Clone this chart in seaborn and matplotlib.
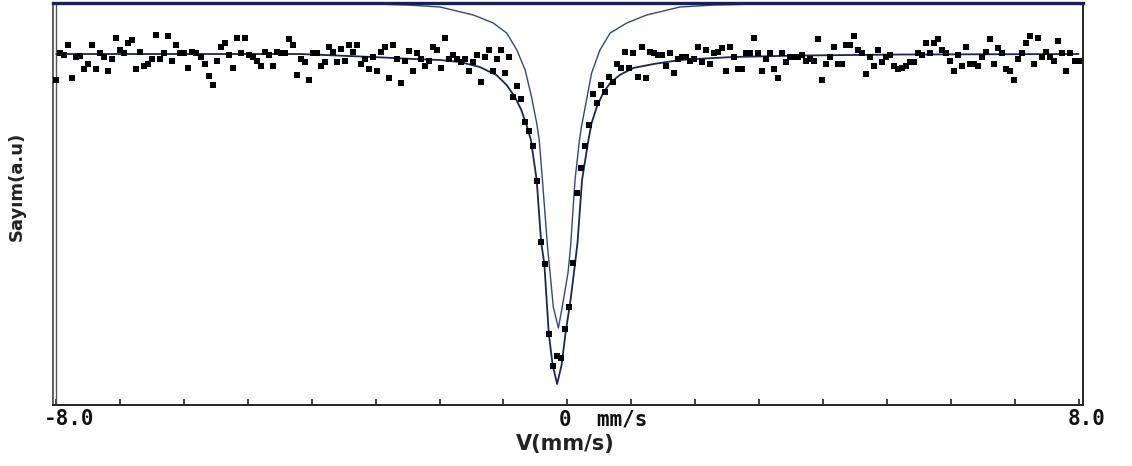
import numpy as np
import pandas as pd
import matplotlib
matplotlib.use("Agg")
import matplotlib.pyplot as plt
import seaborn as sns
from matplotlib.transforms import blended_transform_factory

# ---------------- data ----------------
V_MIN, V_MAX = -8.0, 8.0

# measured counts per channel (relative units), 256 channels from -8 to +8 mm/s
counts = [
    0.975,
    1.002, 1.000, 1.010, 0.977, 0.998, 0.999, 0.986, 0.991, 1.010, 0.986,
    1.002, 0.998, 0.984, 0.996, 1.017, 1.005, 1.002, 1.012, 1.015, 0.986,
    1.003, 0.989, 0.991, 0.996, 1.020, 0.996, 1.002, 1.019, 0.994, 1.010,
    1.002, 1.002, 0.987, 1.003, 1.002, 0.998, 0.991, 0.979, 0.970, 0.994,
    1.008, 1.012, 1.000, 0.987, 1.017, 1.002, 1.017, 1.000, 0.998, 0.994,
    0.989, 1.003, 1.000, 0.989, 1.003, 1.002, 1.002, 1.016, 1.010, 0.980,
    0.996, 0.993, 0.975, 1.002, 1.002, 0.989, 0.993, 1.008, 1.003, 0.993,
    1.006, 0.994, 1.010, 1.003, 1.010, 0.991, 0.996, 0.986, 0.998, 0.984,
    1.003, 1.008, 0.977, 1.010, 0.996, 0.972, 0.994, 1.004, 0.984, 1.002,
    0.996, 0.989, 0.994, 1.008, 1.005, 0.987, 1.017, 0.996, 1.000, 0.996,
    0.993, 0.996, 0.984, 0.993, 1.000, 0.973, 0.998, 1.005, 0.984, 0.996,
    1.005, 0.982, 0.998,
    0.958, 0.969, 0.956, 0.933, 0.924, 0.909, 0.874, 0.813, 0.791, 0.721,
    0.689, 0.699, 0.697, 0.726, 0.748, 0.792, 0.862, 0.887, 0.909, 0.930,
    0.961, 0.952, 0.970, 0.963,
    0.978, 0.973, 0.991, 0.987, 1.003, 0.987, 1.002, 0.978, 1.008, 0.977,
    1.003, 1.002, 1.000,
    1.000, 0.989, 1.002, 0.982, 0.996, 0.998, 0.998, 0.994, 0.996, 1.008,
    0.993, 1.005, 0.991, 1.002, 1.003, 1.007, 0.984, 1.008, 0.998, 0.986,
    0.986, 1.002, 1.002, 1.017, 1.002, 0.984, 0.996, 1.002, 0.986, 0.977,
    1.002, 0.993, 0.998, 0.998, 0.998, 1.000, 0.994, 0.996, 0.994, 1.016,
    0.975, 0.991, 0.998, 1.008, 0.991, 0.991, 1.010, 1.010, 1.019, 1.005,
    1.002, 0.981, 0.998, 0.989, 1.005, 0.993, 0.998, 1.000, 0.989, 0.986,
    0.987, 0.989, 0.993, 0.993, 1.002, 1.000, 1.012, 1.002, 1.012, 1.016,
    1.005, 1.002, 0.994, 0.984, 1.000, 0.989, 1.008, 0.991, 0.991, 0.989,
    0.998, 1.003, 1.016, 0.991, 1.007, 1.002, 0.986, 0.984, 0.975, 0.996,
    1.002, 1.012, 1.019, 0.991, 1.017, 0.998, 1.003, 0.998, 0.994, 1.014,
    1.002, 0.984, 1.002, 0.994, 0.994,
]

# fitted envelope, read along the curve through the data
fit_velocity = [
    -8.00, -4.18, -3.04, -2.40, -1.99, -1.68, -1.37, -1.11, -0.95, -0.82,
    -0.72, -0.63, -0.57, -0.48, -0.41, -0.36, -0.29, -0.23, -0.16, -0.09,
    -0.03, 0.05, 0.12, 0.16, 0.23, 0.33, 0.38, 0.46, 0.56, 0.67,
    0.82, 1.03, 1.35, 1.76, 2.00, 2.59, 3.64, 5.20, 8.00,
]
fit_counts = [
    1.001, 1.001, 0.998, 0.996, 0.995, 0.993, 0.988, 0.980, 0.970, 0.958,
    0.945, 0.928, 0.915, 0.875, 0.813, 0.791, 0.721, 0.690, 0.671, 0.690,
    0.721, 0.755, 0.791, 0.813, 0.875, 0.915, 0.932, 0.948, 0.962, 0.972,
    0.980, 0.987, 0.991, 0.995, 0.996, 0.998, 0.9995, 1.0005, 1.001,
]

# single-line component, drawn offset to the top of the frame
component_velocity = [
    -8.00, -4.00, -3.00, -2.50, -1.99, -1.47, -1.16, -0.95, -0.79, -0.66,
    -0.56, -0.48, -0.44, -0.39, -0.31, -0.27, -0.22, -0.14, -0.08, 0.01,
    0.05, 0.12, 0.19, 0.22, 0.30, 0.38, 0.51, 0.67, 0.93, 1.24,
    1.76, 2.30, 3.00, 4.00, 8.00,
]
component_counts = [
    1.052, 1.052, 1.051, 1.050, 1.048, 1.040, 1.032, 1.022, 1.005, 0.985,
    0.958, 0.932, 0.915, 0.875, 0.808, 0.782, 0.748, 0.727, 0.748, 0.782,
    0.808, 0.875, 0.915, 0.928, 0.955, 0.982, 1.005, 1.022, 1.032, 1.040,
    1.048, 1.050, 1.051, 1.052, 1.052,
]

tick_values = list(range(-8, 9))
edge_tick_labels = ["-8.0", "0  mm/s", "8.0"]
edge_tick_values = [-8, 0, 8]

# ---------------- plot ----------------
sns.set_theme(style="white")
plt.rcParams["font.family"] = ["DejaVu Sans"]

fig = plt.figure(figsize=(11.32, 4.66), dpi=100)
ax = fig.add_axes([0.0468, 0.1309, 0.9099, 0.8637])

velocity = np.linspace(V_MIN, V_MAX, len(counts))
data_df = pd.DataFrame({"velocity": velocity, "counts": counts})
fit_df = pd.DataFrame({"velocity": fit_velocity, "fit": fit_counts})
comp_df = pd.DataFrame({"velocity": component_velocity, "component": component_counts})

sns.lineplot(data=comp_df, x="velocity", y="component", ax=ax, color="#34467f",
             linewidth=1.0, estimator=None, sort=False, zorder=2)
sns.lineplot(data=fit_df, x="velocity", y="fit", ax=ax, color="#1b2556",
             linewidth=1.3, estimator=None, sort=False, zorder=2)
sns.scatterplot(data=data_df, x="velocity", y="counts", ax=ax, marker="s",
                s=16, color="black", linewidth=0, zorder=3)

ax.set_xlim(-8.05, 8.07)
ax.set_ylim(0.650, 1.0525)

# second vertical line of the double left frame
ax.axvline(V_MIN, color="#555555", linewidth=1.0, zorder=1)

ax.set_xticks(tick_values)
ax.set_yticks([])
ax.tick_params(axis="x", direction="in", length=4.5, width=1.2, colors="#222222",
               bottom=True, top=False, labelbottom=False)

for name, sp in ax.spines.items():
    sp.set_visible(True)
ax.spines["top"].set_color("#1a2150")
ax.spines["top"].set_linewidth(2.4)
ax.spines["left"].set_color("#444444")
ax.spines["left"].set_linewidth(1.2)
ax.spines["right"].set_color("#222222")
ax.spines["right"].set_linewidth(1.4)
ax.spines["bottom"].set_color("#222222")
ax.spines["bottom"].set_linewidth(1.4)

trans = blended_transform_factory(ax.transData, ax.transAxes)
mono = dict(family="DejaVu Sans Mono", fontweight="bold", fontsize=15, color="#111111")
offsets = [(13, -4, "center"), (-8, -4, "left"), (8, -4, "center")]
for val, lab, (dx, dy, ha) in zip(edge_tick_values, edge_tick_labels, offsets):
    ax.annotate(lab, xy=(val, 0), xycoords=trans, xytext=(dx, dy),
                textcoords="offset pixels", ha=ha, va="top", **mono)

ax.set_xlabel("V(mm/s)", fontsize=15, fontweight="bold", color="#222222")
ax.xaxis.set_label_coords(0.497, -0.072)
ax.set_ylabel("Sayım(a.u)", fontsize=13, fontweight="bold", color="#222222")
ax.yaxis.set_label_coords(-0.026, 0.542)

fig.savefig("out.png", dpi=100, facecolor="white")
